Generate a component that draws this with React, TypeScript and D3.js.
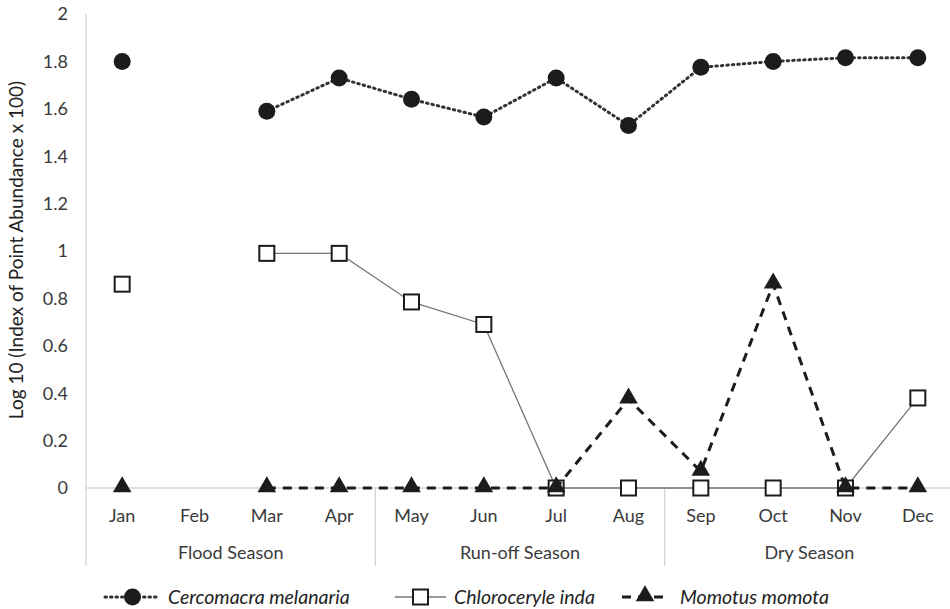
import React from 'react';
import * as d3 from 'd3';

const months = ['Jan', 'Feb', 'Mar', 'Apr', 'May', 'Jun', 'Jul', 'Aug', 'Sep', 'Oct', 'Nov', 'Dec'];
const seasons = [
  { name: 'Flood Season', from: 0, to: 4 },
  { name: 'Run-off Season', from: 4, to: 8 },
  { name: 'Dry Season', from: 8, to: 12 },
];
const cercomacra = [1.80, null, 1.59, 1.73, 1.64, 1.565, 1.73, 1.53, 1.775, 1.80, 1.815, 1.815];
const chloroceryle = [0.86, null, 0.99, 0.99, 0.785, 0.69, 0, 0, 0, 0, 0, 0.38];
const momotus = [0, null, 0, 0, 0, 0, 0, 0.375, 0.07, 0.86, 0, 0];
const yTicks = [0, 0.2, 0.4, 0.6, 0.8, 1, 1.2, 1.4, 1.6, 1.8, 2];

const W = 950;
const H = 609;
const FONT = 'Lato, "Open Sans", sans-serif';
const GRID = '#d4d4d4';
const TEXT = '#3a3a3a';

const App = () => {
  const left = 86;
  const right = 954;
  const top = 14;
  const base = 488;
  const bottom = 566;

  const x = d3.scaleBand<string>().domain(months).range([left, right]);
  const cx = (i: number) => (x(months[i]) as number) + x.bandwidth() / 2;
  const y = d3.scaleLinear().domain([0, 2]).range([base, top]);

  const line = d3.line<number | null>()
    .defined((d) => d !== null)
    .x((_, i) => cx(i))
    .y((d) => y(d as number));

  const tri = d3.symbol().type(d3.symbolTriangle).size(150);

  const circleMarker = (px: number, py: number, k: string) => (
    <circle key={k} cx={px} cy={py} r={8.5} fill="#1c1c1c" />
  );
  const squareMarker = (px: number, py: number, k: string) => (
    <rect key={k} x={px - 7.5} y={py - 7.5} width={15} height={15} fill="#fff" stroke="#1c1c1c" strokeWidth={2} />
  );
  const triMarker = (px: number, py: number, k: string) => (
    <path key={k} d={tri() as string} transform={`translate(${px},${py - 1})`} fill="#1c1c1c" />
  );

  const legend = [
    { name: 'Cercomacra melanaria', x0: 105, x1: 160, tx: 168, marker: circleMarker, stroke: '#333', sw: 3, dash: '1.5,4', cap: 'round' },
    { name: 'Chloroceryle inda', x0: 395, x1: 446, tx: 454, marker: squareMarker, stroke: '#777', sw: 1.3, dash: undefined, cap: 'butt' },
    { name: 'Momotus momota', x0: 622, x1: 668, tx: 680, marker: triMarker, stroke: '#1c1c1c', sw: 3, dash: '9,7', cap: 'butt' },
  ];

  return (
    <svg width={W} height={H} style={{ position: 'absolute', left: 0, top: 0, background: '#fff' }} fontFamily={FONT}>
      {/* axes */}
      <line x1={left} x2={left} y1={top} y2={bottom} stroke={GRID} strokeWidth={1.3} />
      <line x1={left} x2={W} y1={base} y2={base} stroke={GRID} strokeWidth={1.3} />
      {seasons.slice(1).map((s) => (
        <line key={s.name} x1={x(months[s.from])} x2={x(months[s.from])} y1={base} y2={bottom} stroke={GRID} strokeWidth={1.3} />
      ))}

      {yTicks.map((t) => (
        <text key={t} x={68} y={y(t)} dy="0.35em" textAnchor="end" fontSize={18} fill={TEXT}>{String(t)}</text>
      ))}
      <text transform="translate(23,250) rotate(-90)" textAnchor="middle" fontSize={19} fill="#222">
        Log 10 (Index of Point Abundance x 100)
      </text>

      {months.map((m, i) => (
        <text key={m} x={cx(i)} y={522} textAnchor="middle" fontSize={18} fill={TEXT}>{m}</text>
      ))}
      {seasons.map((s) => {
        const a = x(months[s.from]) as number;
        const b = s.to >= months.length ? right : (x(months[s.to]) as number);
        return (
          <text key={s.name} x={(a + b) / 2} y={559} textAnchor="middle" fontSize={18} fill={TEXT}>{s.name}</text>
        );
      })}

      {/* Chloroceryle inda */}
      <path d={line(chloroceryle) as string} fill="none" stroke="#777" strokeWidth={1.3} />
      {/* Cercomacra melanaria */}
      <path d={line(cercomacra) as string} fill="none" stroke="#333" strokeWidth={3} strokeDasharray="1.5,4" strokeLinecap="round" />
      {cercomacra.map((d, i) => (d === null ? null : circleMarker(cx(i), y(d), `c${i}`)))}
      {chloroceryle.map((d, i) => (d === null ? null : squareMarker(cx(i), y(d), `s${i}`)))}
      {momotus.map((d, i) => (d === null ? null : triMarker(cx(i), y(d), `t${i}`)))}
      {/* Momotus momota */}
      <path d={line(momotus) as string} fill="none" stroke="#1c1c1c" strokeWidth={3} strokeDasharray="9,7" />

      {/* legend */}
      {legend.map((l) => (
        <g key={l.name}>
          <line x1={l.x0} x2={l.x1} y1={597} y2={597} stroke={l.stroke} strokeWidth={l.sw} strokeDasharray={l.dash} strokeLinecap={l.cap as any} />
          {l.marker((l.x0 + l.x1) / 2, 597, 'm')}
          <text x={l.tx} y={597} dy="0.35em" fontSize={19.5} fontStyle="italic" fill="#222">{l.name}</text>
        </g>
      ))}
    </svg>
  );
};

export default App;
